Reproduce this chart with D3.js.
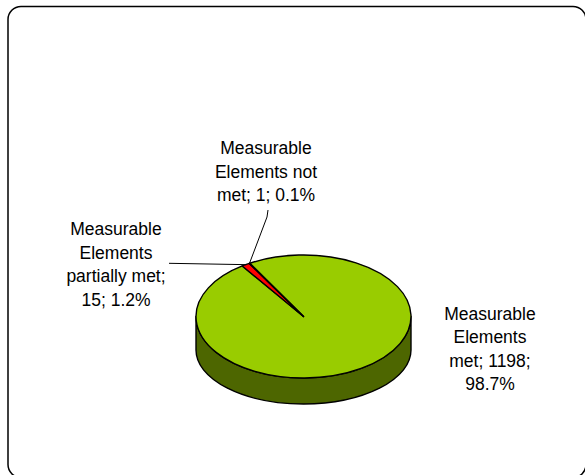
<!DOCTYPE html>
<html>
<head>
<meta charset="utf-8">
<script src="https://cdn.jsdelivr.net/npm/d3@7"></script>
<style>
  html, body { margin: 0; padding: 0; background: #ffffff; }
  svg { display: block; }
  text { font-family: "Liberation Sans", Arial, sans-serif; fill: #000; }
</style>
</head>
<body>
<svg id="chart" width="585" height="475"></svg>
<script>
// Measurable element assessment results
const categories = [
  "Measurable Elements met",
  "Measurable Elements partially met",
  "Measurable Elements not met"
];
const values = [1198, 15, 1];
const sliceColors = ["#99CC00", "#FF0000", "#FFCC00"];
const sideColors = ["#4D6600", "#800000", "#806600"];

// Layout of the tilted pie
const W = 585, H = 475;
const cx = 303.5, cy = 316.5;       // centre of the top face
const rx = 107.5, ry = 61.5;        // radii of the top face
const cyB = 350, ryB = 54;          // centre / vertical radius of the bottom face
const firstSliceAngle = -30 * Math.PI / 180;

// Data-label placement: centre x and first baseline, plus leader elbows
const labelLayout = [
  { x: 490, y: 319.5, leader: null },
  { x: 116, y: 235,   leader: [[169, 263.3]] },
  { x: 266, y: 154,   leader: [[268, 210], [267, 217]] }
];
const fontSize = 17.5, lineHeight = 23.5, wrapWidth = 106;

const svg = d3.select("#chart");

// Rounded chart-area frame
svg.append("rect")
  .attr("x", 8).attr("y", 6.5)
  .attr("width", 578).attr("height", 471)
  .attr("rx", 13).attr("ry", 13)
  .attr("fill", "#fff")
  .attr("stroke", "#000")
  .attr("stroke-width", 1.5);

const pie = d3.pie().sort(null).value(d => d)
  .startAngle(firstSliceAngle)
  .endAngle(firstSliceAngle + 2 * Math.PI);
const arcs = pie(values);

const topPt = a => [cx + rx * Math.sin(a), cy - ry * Math.cos(a)];
const botPt = a => [cx + rx * Math.sin(a), cyB - ryB * Math.cos(a)];

const g = svg.append("g");

// Side walls: only the front half (angles between 90° and 270°) is visible
arcs.forEach((d, i) => {
  const segs = [];
  for (let k = -1; k <= 1; k++) {
    const lo = Math.PI / 2 + 2 * Math.PI * k, hi = 3 * Math.PI / 2 + 2 * Math.PI * k;
    const a0 = Math.max(d.startAngle, lo), a1 = Math.min(d.endAngle, hi);
    if (a1 > a0) segs.push([a0, a1]);
  }
  segs.forEach(([a0, a1]) => {
    const p = d3.path();
    const t0 = topPt(a0), t1 = topPt(a1), b0 = botPt(a0), b1 = botPt(a1);
    const large = (a1 - a0) > Math.PI ? 1 : 0;
    const dStr = `M${t0[0]},${t0[1]} A${rx},${ry} 0 ${large} 1 ${t1[0]},${t1[1]}` +
      ` L${b1[0]},${b1[1]} A${rx},${ryB} 0 ${large} 0 ${b0[0]},${b0[1]} Z`;
    g.append("path")
      .attr("d", dStr)
      .attr("fill", sideColors[i])
      .attr("stroke", "#000")
      .attr("stroke-width", 1.4)
      .attr("stroke-linejoin", "round");
  });
});

// Top faces of the slices
arcs.forEach((d, i) => {
  const s = topPt(d.startAngle), e = topPt(d.endAngle);
  const large = (d.endAngle - d.startAngle) > Math.PI ? 1 : 0;
  const dStr = `M${cx},${cy} L${s[0]},${s[1]} A${rx},${ry} 0 ${large} 1 ${e[0]},${e[1]} Z`;
  g.append("path")
    .attr("d", dStr)
    .attr("fill", sliceColors[i])
    .attr("stroke", "#000")
    .attr("stroke-width", 1.4)
    .attr("stroke-linejoin", "round");
});

// Data labels: "name; value; percent", wrapped to the label width
const total = d3.sum(values);
const pct = d3.format(".1%");
const measure = svg.append("text").attr("font-size", fontSize).attr("visibility", "hidden");
function wrap(str) {
  const words = str.split(" ");
  const lines = [];
  let cur = "";
  words.forEach(w => {
    const trial = cur ? cur + " " + w : w;
    measure.text(trial);
    if (cur && measure.node().getComputedTextLength() > wrapWidth) {
      lines.push(cur);
      cur = w;
    } else {
      cur = trial;
    }
  });
  if (cur) lines.push(cur);
  return lines;
}

arcs.forEach((d, i) => {
  const L = labelLayout[i];
  const label = `${categories[i]}; ${values[i]}; ${pct(values[i] / total)}`;
  const lines = wrap(label);
  const t = svg.append("text")
    .attr("font-size", fontSize)
    .attr("text-anchor", "middle");
  lines.forEach((ln, j) => {
    t.append("tspan").attr("x", L.x).attr("y", L.y + j * lineHeight).text(ln);
  });
  if (L.leader) {
    const mid = (d.startAngle + d.endAngle) / 2;
    const pts = L.leader.concat([topPt(mid)]);
    svg.append("path")
      .attr("d", d3.line()(pts))
      .attr("fill", "none")
      .attr("stroke", "#000")
      .attr("stroke-width", 1);
  }
});
measure.remove();
</script>
</body>
</html>
